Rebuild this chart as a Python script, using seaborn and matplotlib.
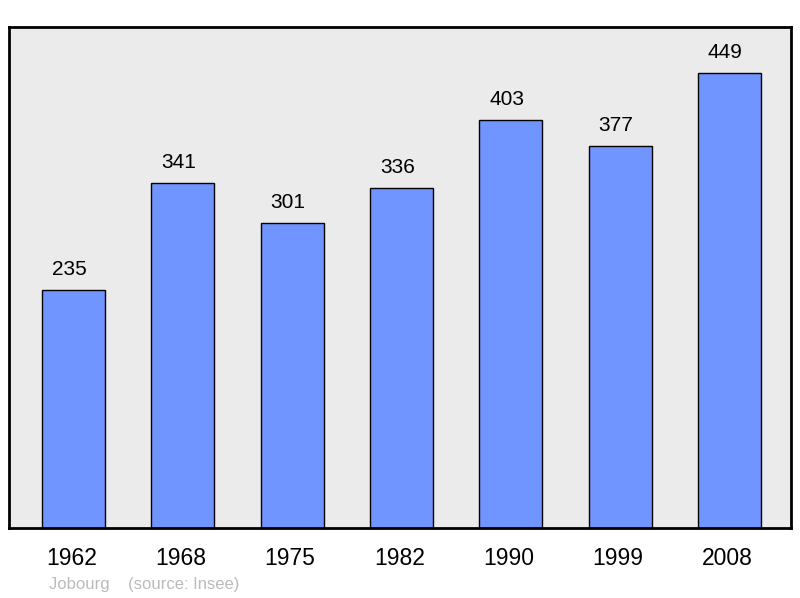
import matplotlib
matplotlib.use("Agg")
import matplotlib.pyplot as plt
import matplotlib.transforms as mtransforms
import seaborn as sns
import pandas as pd

years = ["1962", "1968", "1975", "1982", "1990", "1999", "2008"]
population = [235, 341, 301, 336, 403, 377, 449]

sns.set_theme(style="white")
plt.rcParams['font.family'] = ['Liberation Sans', 'DejaVu Sans']

df = pd.DataFrame({"year": years, "pop": population})

fig = plt.figure(figsize=(8, 5.98), dpi=100)
ax = fig.add_axes([9 / 800, 70 / 598, 782 / 800, 501 / 598])
ax.set_facecolor("#ebebeb")

sns.barplot(data=df, x="year", y="pop", color="#7095ff", saturation=1,
            width=0.576, edgecolor="black", linewidth=1, ax=ax)

# value labels, slightly left of bar centre like the original
for bar, v in zip(ax.patches, population):
    ax.annotate(str(v), (bar.get_x() + bar.get_width() / 2, bar.get_height()),
                xytext=(-3, 8), textcoords="offset points",
                ha="center", va="bottom", fontsize=15, color="black")

ax.set_xlim(-0.59, 6.563)
ax.set_ylim(0, 494.7)
ax.set_xlabel("")
ax.set_ylabel("")
ax.set_yticks([])
ax.tick_params(axis="x", length=0, pad=14, labelsize=16.5, labelcolor="black")
shift = mtransforms.ScaledTranslation(-1.5 / 72, 0, fig.dpi_scale_trans)
for lbl in ax.get_xticklabels():
    lbl.set_transform(lbl.get_transform() + shift)
for s in ax.spines.values():
    s.set_visible(True)
    s.set_color("black")
    s.set_linewidth(2)

fig.text(49 / 800, 1 - 584 / 598, "Jobourg    (source: Insee)", fontsize=12,
         color="#bbbbbb", va="center", ha="left")

fig.savefig("out.png", dpi=100)
